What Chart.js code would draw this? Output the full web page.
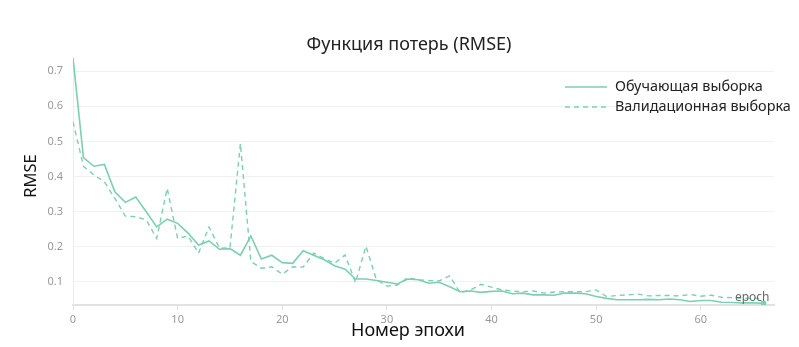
<!DOCTYPE html>
<html>
<head>
<meta charset="utf-8">
<script src="https://cdn.jsdelivr.net/npm/chart.js@4.4.0/dist/chart.umd.min.js"></script>
<style>
  html, body { margin: 0; padding: 0; background: #fff; }
  canvas { display: block; }
</style>
</head>
<body>
<canvas id="lossChart" width="799" height="347"></canvas>
<script>
// epochs (x axis)
const epochs = [0, 1, 2, 3, 4, 5, 6, 7, 8, 9, 10, 11, 12, 13, 14, 15, 16, 17, 18, 19,
  20, 21, 22, 23, 24, 25, 26, 27, 28, 29, 30, 31, 32, 33, 34, 35, 36, 37, 38, 39,
  40, 41, 42, 43, 44, 45, 46, 47, 48, 49, 50, 51, 52, 53, 54, 55, 56, 57, 58, 59,
  60, 61, 62, 63, 64, 65, 66];

// RMSE on training set
const trainRmse = [0.738, 0.454, 0.429, 0.434, 0.356, 0.326, 0.341, 0.299, 0.256, 0.278,
  0.266, 0.238, 0.204, 0.216, 0.192, 0.194, 0.175, 0.230, 0.164, 0.175,
  0.154, 0.152, 0.188, 0.175, 0.162, 0.145, 0.135, 0.107, 0.107, 0.103,
  0.098, 0.093, 0.107, 0.105, 0.095, 0.098, 0.085, 0.071, 0.073, 0.069,
  0.072, 0.073, 0.065, 0.067, 0.062, 0.062, 0.061, 0.067, 0.067, 0.065,
  0.057, 0.052, 0.048, 0.048, 0.048, 0.049, 0.048, 0.050, 0.048, 0.043,
  0.046, 0.046, 0.041, 0.040, 0.039, 0.039, 0.038];

// RMSE on validation set
const validRmse = [0.556, 0.429, 0.404, 0.385, 0.337, 0.287, 0.285, 0.276, 0.223, 0.366,
  0.223, 0.230, 0.181, 0.256, 0.195, 0.196, 0.494, 0.157, 0.138, 0.142,
  0.121, 0.142, 0.141, 0.181, 0.166, 0.152, 0.176, 0.097, 0.201, 0.105,
  0.087, 0.090, 0.111, 0.105, 0.103, 0.102, 0.116, 0.068, 0.076, 0.092,
  0.084, 0.076, 0.073, 0.071, 0.073, 0.067, 0.070, 0.071, 0.071, 0.071,
  0.076, 0.057, 0.060, 0.062, 0.064, 0.059, 0.060, 0.060, 0.059, 0.063,
  0.058, 0.061, 0.055, 0.054, 0.052, 0.052, 0.052];

const seriesNames = ['Обучающая выборка', 'Валидационная выборка'];
const chartTitle = 'Функция потерь (RMSE)';
const xTitle = 'Номер эпохи';
const yTitle = 'RMSE';

const lineColor = '#7dcfb3';
const FONT = '"Noto Sans", "Open Sans", sans-serif';

function toPoints(values) {
  return values.map((v, i) => ({ x: epochs[i], y: v }));
}

// legend drawn inside the plot, upper right
const cornerLegend = {
  id: 'cornerLegend',
  afterDatasetsDraw(chart) {
    const ctx = chart.ctx;
    ctx.save();
    ctx.font = '14.4px ' + FONT;
    ctx.textBaseline = 'middle';
    ctx.textAlign = 'left';
    chart.data.datasets.forEach((ds, i) => {
      const y = 87 + i * 20;
      ctx.strokeStyle = ds.borderColor;
      ctx.lineWidth = ds.borderWidth;
      ctx.setLineDash(ds.borderDash || []);
      ctx.beginPath();
      ctx.moveTo(565, y);
      ctx.lineTo(607, y);
      ctx.stroke();
      ctx.setLineDash([]);
      ctx.fillStyle = '#222';
      ctx.fillText(ds.label, 615, y);
    });
    ctx.restore();
  }
};

// chart title and axis titles (space is reserved by layout / afterFit)
const titles = {
  id: 'titles',
  afterDraw(chart) {
    const ctx = chart.ctx;
    ctx.save();
    ctx.textAlign = 'center';
    ctx.textBaseline = 'middle';
    ctx.fillStyle = '#222';
    ctx.font = '18px ' + FONT;
    ctx.fillText(chartTitle, 409, 45);
    ctx.fillStyle = '#111';
    ctx.font = '18px ' + FONT;
    ctx.fillText(xTitle, 408, 331);
    ctx.translate(31, 176);
    ctx.rotate(-Math.PI / 2);
    ctx.font = '16.5px ' + FONT;
    ctx.fillText(yTitle, 0, 0);
    ctx.restore();
  }
};

// small "epoch" note at the end of the x axis
const epochNote = {
  id: 'epochNote',
  afterDatasetsDraw(chart) {
    const {ctx, scales} = chart;
    ctx.save();
    ctx.font = '12px ' + FONT;
    ctx.fillStyle = '#666';
    ctx.textAlign = 'right';
    ctx.textBaseline = 'middle';
    ctx.fillText('epoch', scales.x.getPixelForValue(epochs[epochs.length - 1]) + 6, scales.y.getPixelForValue(0.0535));
    ctx.restore();
  }
};

const lastIdx = epochs.length - 1;

new Chart(document.getElementById('lossChart').getContext('2d'), {
  type: 'line',
  data: {
    datasets: [{
      label: seriesNames[0],
      data: toPoints(trainRmse),
      borderColor: lineColor,
      backgroundColor: lineColor,
      borderWidth: 1.6,
      pointRadius: ctx => ctx.dataIndex === lastIdx ? 2 : 0,
      tension: 0
    }, {
      label: seriesNames[1],
      data: toPoints(validRmse),
      borderColor: lineColor,
      backgroundColor: lineColor,
      borderWidth: 1.4,
      borderDash: [5, 4],
      pointRadius: 0,
      tension: 0
    }]
  },
  options: {
    responsive: false,
    devicePixelRatio: 1,
    animation: false,
    layout: { padding: { left: 0, right: 25, top: 58, bottom: 0 } },
    plugins: {
      legend: { display: false },
      tooltip: { enabled: false },
      title: { display: false }
    },
    scales: {
      x: {
        type: 'linear',
        min: 0,
        max: 67,
        afterFit(scale) { scale.height = 42; },
        ticks: {
          stepSize: 10,
          includeBounds: false,
          color: '#999',
          font: { family: FONT, size: 11 },
          padding: 3,
          maxRotation: 0
        },
        grid: {
          drawOnChartArea: false,
          drawTicks: true,
          tickLength: 5,
          color: '#e2e2e2'
        },
        border: { color: '#e2e2e2', width: 2 }
      },
      y: {
        min: 0.033,
        max: 0.738,
        afterFit(scale) { scale.width = 73; },
        ticks: {
          stepSize: 0.1,
          includeBounds: false,
          color: '#999',
          font: { family: FONT, size: 11 },
          padding: 10,
          callback: v => v.toFixed(1)
        },
        grid: {
          drawTicks: false,
          color: '#f1f1f1'
        },
        border: { color: '#ececec', width: 1 }
      }
    }
  },
  plugins: [cornerLegend, titles, epochNote]
});
</script>
</body>
</html>
